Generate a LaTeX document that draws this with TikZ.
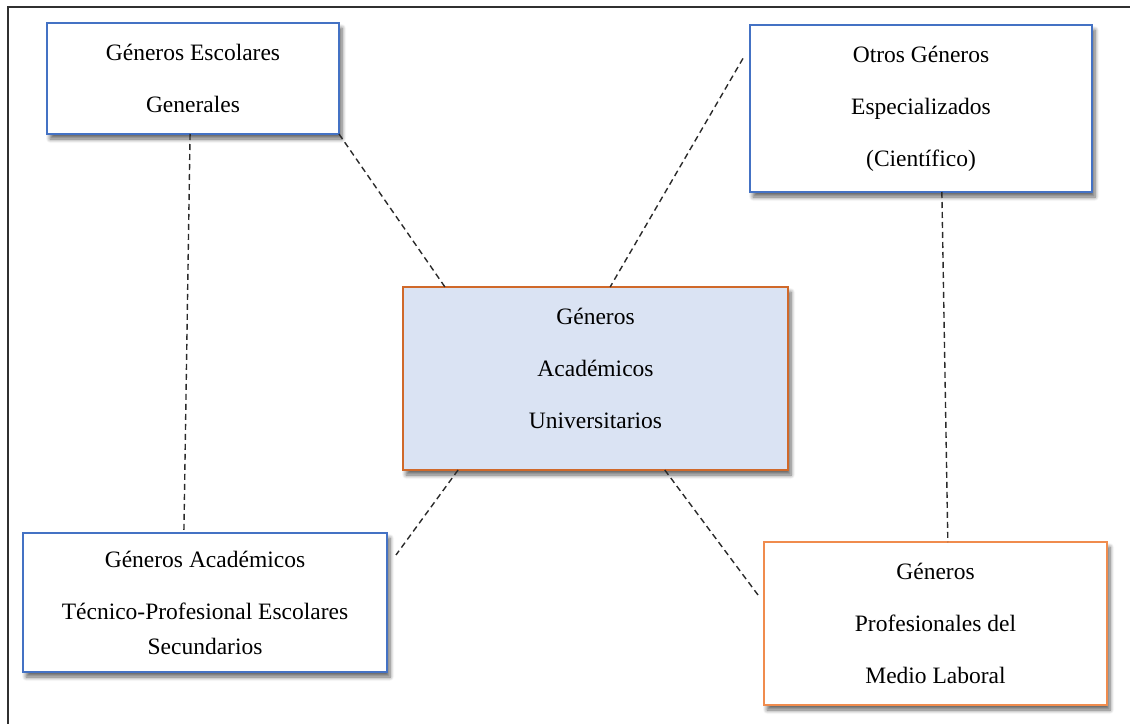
\documentclass[tikz,border=0pt]{standalone}
\usepackage{fontspec}
\setmainfont{Liberation Serif}
\usetikzlibrary{calc,shadows.blur}
\definecolor{boxblue}{HTML}{4472C4}
\definecolor{boxorange}{HTML}{D0692A}
\definecolor{lightorange}{HTML}{F08C4E}
\definecolor{centerfill}{HTML}{DAE3F3}
\definecolor{frameline}{HTML}{303030}
\definecolor{dashline}{HTML}{2A2A2A}
\tikzset{
  genbox/.style={draw=boxblue, line width=1.3pt, fill=white, rectangle, align=center,
    inner sep=0pt, outer sep=0pt,
    font=\fontsize{23.5}{52}\selectfont,
    blur shadow={shadow xshift=3pt, shadow yshift=-5pt, shadow blur steps=6, shadow blur radius=4pt, shadow opacity=60}},
  centerbox/.style={genbox, draw=boxorange, fill=centerfill},
  profbox/.style={genbox, draw=lightorange},
  link/.style={draw=dashline, line width=1.4pt, dash pattern=on 6pt off 4pt},
}
\begin{document}
\begin{tikzpicture}[x=1pt,y=-1pt]
\useasboundingbox (0,0) rectangle (1130,723);
% outer frame (only left and top visible)
\draw[frameline, line width=2pt] (8,730) -- (8,7) -- (1140,7);

\node[genbox, minimum width=292pt, minimum height=111pt] (esc) at (193,78.5)
  {Géneros Escolares\\Generales};
\node[centerbox, minimum width=385pt, minimum height=183pt] (uni) at (595.5,378.5)
  {Géneros\\Académicos\\Universitarios\\[-32pt]\mbox{}};
\node[genbox, minimum width=342pt, minimum height=167pt] (otr) at (921,108.5)
  {Otros Géneros\\Especializados\\(Científico)};
\node[genbox, minimum width=364pt, minimum height=139pt] (tec) at (205,602.5)
  {Géneros Académicos\\Técnico-Profesional Escolares\\[-17pt]Secundarios};
\node[profbox, minimum width=343pt, minimum height=163pt] (pro) at (935.5,623.5)
  {Géneros\\Profesionales del\\Medio Laboral};

% dashed connectors
\draw[link] ($(esc.south west)!0.49!(esc.south east)$) -- ($(tec.north west)!0.442!(tec.north east)$);
\draw[link] (esc.south east) -- ($(uni.north west)!0.109!(uni.north east)$);
\draw[link] ($($(otr.north west)!0.2!(otr.south west)$)+(-7,0)$) -- ($(uni.north west)!0.538!(uni.north east)$);
\draw[link] ($(otr.south west)!0.561!(otr.south east)$) -- ($(pro.north west)!0.536!(pro.north east)$);
\draw[link] ($(uni.south west)!0.143!(uni.south east)$) -- ($($(tec.north east)!0.158!(tec.south east)$)+(9,0)$);
\draw[link] ($(uni.south west)!0.68!(uni.south east)$) -- ($($(pro.north west)!0.325!(pro.south west)$)+(-6,0)$);
\end{tikzpicture}
\end{document}
